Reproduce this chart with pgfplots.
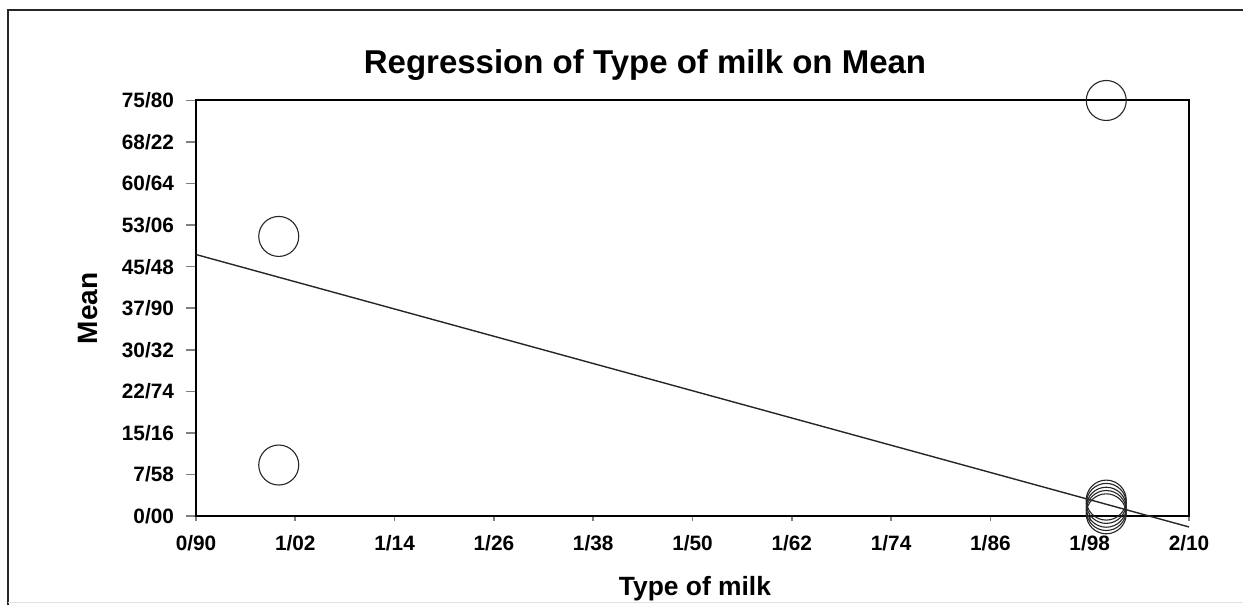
\documentclass[border=0pt]{standalone}
\usepackage{pgfplots}
\pgfplotsset{compat=1.18}
\usepackage{fontspec}
\setmainfont{Liberation Sans}
\begin{document}
\begin{tikzpicture}
\useasboundingbox (-98pt,-44.5pt) rectangle (523.5pt,258pt);
\fill[white] (-98pt,-44.5pt) rectangle (523.5pt,258pt);
\draw[line width=1pt,black!85] (-93.75pt,-44.5pt) -- (-93.75pt,253pt) -- (523.5pt,253pt);
\draw[line width=0.5pt,black!12] (-93.75pt,-43.5pt) -- (523.5pt,-43.5pt);
\begin{axis}[
  at={(0,0)}, anchor=south west,
  scale only axis=true,
  width=496.5pt, height=207.75pt,
  xmin=0.90, xmax=2.10, ymin=0, ymax=75.80,
  clip=false,
  axis line style={line width=1pt},
  tick pos=left, tick align=outside,
  major tick length=5pt,
  xtick style={line width=0.8pt,/pgfplots/major tick length=2.5pt},
  ytick style={line width=0.8pt},
  xtick={0.90,1.02,1.14,1.26,1.38,1.50,1.62,1.74,1.86,1.98,2.10},
  xticklabels={0/90,1/02,1/14,1/26,1/38,1/50,1/62,1/74,1/86,1/98,2/10},
  ytick={0,7.58,15.16,22.74,30.32,37.90,45.48,53.06,60.64,68.22,75.80},
  yticklabels={0/00,7/58,15/16,22/74,30/32,37/90,45/48,53/06,60/64,68/22,75/80},
  ticklabel style={font=\fontsize{10.4pt}{12pt}\selectfont\bfseries},
  xticklabel style={yshift=-1pt},
  yticklabel style={xshift=-2.5pt},
  xlabel={Type of milk},
  ylabel={Mean},
  every axis x label/.style={at={(axis description cs:0.5025,-0.1925)},anchor=base,font=\fontsize{13.2pt}{15pt}\selectfont\bfseries},
  every axis y label/.style={at={(axis description cs:-0.1088,0.5)},rotate=90,anchor=center,font=\fontsize{14pt}{16pt}\selectfont\bfseries},
]
\addplot[only marks, mark=o, mark size=10pt, mark options={line width=0.55pt,black!85}] coordinates {
  (1.00,51.0) (1.00,9.3) (2.00,75.8)
  (2.00,2.9) (2.00,2.3) (2.00,1.6) (2.00,1.0) (2.00,0.4)
};
\addplot[no marks, line width=0.7pt, black!85] coordinates {(0.90,47.7) (2.10,-2.0)};
\end{axis}
\node[anchor=base, font=\fontsize{16.5pt}{19pt}\selectfont\bfseries] at (224.5pt,221pt) {Regression of Type of milk on Mean};
\end{tikzpicture}
\end{document}
